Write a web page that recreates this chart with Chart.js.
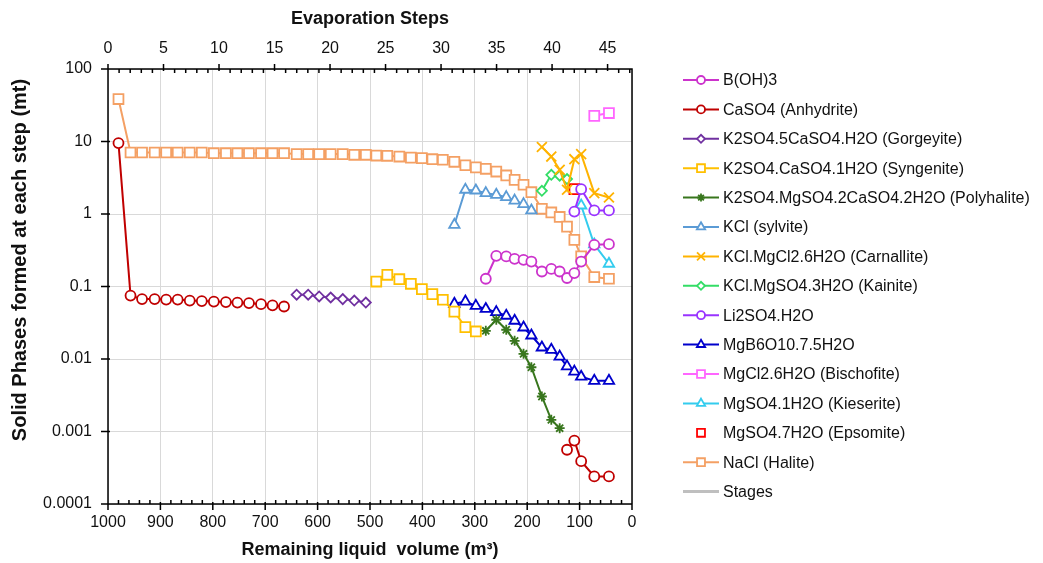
<!DOCTYPE html>
<html lang="en">
<head>
<meta charset="UTF-8">
<title>Solid phases formed during evaporation</title>
<script src="https://cdn.jsdelivr.net/npm/chart.js"></script>
<style>
  html, body { margin: 0; padding: 0; background: #fff; }
  #wrap { width: 1043px; height: 563px; position: relative; }
</style>
</head>
<body>
<div id="wrap"><canvas id="phaseChart"></canvas></div>
<script>
// remaining liquid volume (m3) after each evaporation step
const volume = [980, 957, 935, 911, 889, 867, 844, 821, 798, 775, 753, 731, 708, 686, 664,
                640, 618, 597, 575, 552, 530, 508, 488, 467, 444, 422, 401, 381, 361, 339,
                318, 298, 279, 259, 240, 224, 207, 192, 172, 154, 138, 124, 110, 97, 72, 44];

const stepTicks = [0, 5, 10, 15, 20, 25, 30, 35, 40, 45];
const volumeTicks = [0, 100, 200, 300, 400, 500, 600, 700, 800, 900, 1000];
const yTicks = [0.0001, 0.001, 0.01, 0.1, 1, 10, 100];
const yTickLabels = ['0.0001', '0.001', '0.01', '0.1', '1', '10', '100'];

// solid phase masses (mt); each list starts at the step index given next to it
const boricAcid = [0.128, 0.265, 0.26, 0.241, 0.233, 0.221, 0.161, 0.175, 0.161, 0.131, 0.153, 0.221, 0.376, 0.384];
const boricAcidStart = 32;
const anhydriteEarly = [9.5, 0.075, 0.067, 0.067, 0.066, 0.066, 0.064, 0.063, 0.062, 0.061, 0.060, 0.059, 0.057, 0.055, 0.053];
const anhydriteLate = [0.00056, 0.00075, 0.00039, 0.00024, 0.00024];
const anhydriteLateStart = 41;
const gorgeyite = [0.077, 0.077, 0.073, 0.0705, 0.067, 0.064, 0.060];
const gorgeyiteStart = 15;
const syngenite = [0.117, 0.145, 0.126, 0.109, 0.092, 0.0785, 0.0656, 0.045, 0.0275, 0.024];
const syngeniteStart = 22;
const polyhalite = [0.0245, 0.0348, 0.0253, 0.0178, 0.0118, 0.0077, 0.00304, 0.00145, 0.00111];
const polyhaliteStart = 32;
const sylvite = [0.71, 2.16, 2.11, 1.94, 1.84, 1.71, 1.53, 1.37, 1.12];
const sylviteStart = 29;
const carnallite = [8.4, 6.2, 4.07, 2.16, 5.7, 6.7, 1.94, 1.69];
const carnalliteStart = 38;
const kainite = [2.09, 3.47, 3.37, 3.03];
const kainiteStart = 38;
const lithiumSulfate = [1.08, 2.2, 1.12, 1.12];
const lithiumSulfateStart = 42;
const magnesiumBorate = [0.0577, 0.062, 0.054, 0.049, 0.0443, 0.0395, 0.0337, 0.0272, 0.0211, 0.0144,
                         0.0134, 0.0108, 0.0079, 0.0067, 0.0057, 0.005, 0.005];
const magnesiumBorateStart = 29;
const bischofite = [22.6, 24.7];
const bischofiteStart = 44;
const kieserite = [1.31, 0.38, 0.206];
const kieseriteStart = 43;
const epsomite = [2.2];
const epsomiteStart = 42;
const halite = [38.5, 7.05, 7.05, 7.05, 7.05, 7.05, 7.05, 7.05, 6.9, 6.9, 6.9, 6.9, 6.9, 6.9, 6.9,
                6.7, 6.7, 6.7, 6.7, 6.7, 6.55, 6.55, 6.4, 6.35, 6.2, 6.0, 5.9, 5.7, 5.6, 5.25,
                4.7, 4.4, 4.2, 3.85, 3.4, 2.96, 2.53, 2.0, 1.18, 1.05, 0.91, 0.67, 0.44, 0.26, 0.135, 0.128];

// put a list on the step grid, leaving the other steps empty
function onSteps(start, values, base) {
  const out = base ? base.slice() : volume.map(() => null);
  values.forEach((v, i) => { out[start + i] = v; });
  return out;
}
function points(arr) {
  return volume.map((v, i) => ({ x: v, y: arr[i] }));
}

function series(label, arr, color, style, radius, extra) {
  return Object.assign({
    label: label,
    data: points(arr),
    borderColor: color,
    backgroundColor: color,
    borderWidth: 2,
    pointStyle: style,
    pointRadius: radius,
    pointHoverRadius: radius,
    pointBorderColor: color,
    pointBackgroundColor: '#fff',
    pointBorderWidth: 1.8,
    spanGaps: false,
    xAxisID: 'x',
    yAxisID: 'y'
  }, extra || {});
}

const datasets = [
  series('B(OH)3', onSteps(boricAcidStart, boricAcid), '#CC33CC', 'circle', 5),
  series('CaSO4 (Anhydrite)', onSteps(anhydriteLateStart, anhydriteLate, onSteps(0, anhydriteEarly)), '#C00000', 'circle', 5),
  series('K2SO4.5CaSO4.H2O (Gorgeyite)', onSteps(gorgeyiteStart, gorgeyite), '#7030A0', 'rectRot', 5),
  series('K2SO4.CaSO4.1H2O (Syngenite)', onSteps(syngeniteStart, syngenite), '#FFC000', 'rect', 7),
  series('K2SO4.MgSO4.2CaSO4.2H2O (Polyhalite)', onSteps(polyhaliteStart, polyhalite), '#38761D', 'star', 5),
  series('KCl (sylvite)', onSteps(sylviteStart, sylvite), '#5B9BD5', 'triangle', 6),
  series('KCl.MgCl2.6H2O (Carnallite)', onSteps(carnalliteStart, carnallite), '#FFB300', 'crossRot', 7),
  series('KCl.MgSO4.3H2O (Kainite)', onSteps(kainiteStart, kainite), '#33DD66', 'rectRot', 5),
  series('Li2SO4.H2O', onSteps(lithiumSulfateStart, lithiumSulfate), '#9933FF', 'circle', 5),
  series('MgB6O10.7.5H2O', onSteps(magnesiumBorateStart, magnesiumBorate), '#0000CC', 'triangle', 6),
  series('MgCl2.6H2O (Bischofite)', onSteps(bischofiteStart, bischofite), '#FF66FF', 'rect', 7),
  series('MgSO4.1H2O (Kieserite)', onSteps(kieseriteStart, kieserite), '#33CCEE', 'triangle', 6),
  series('MgSO4.7H2O (Epsomite)', onSteps(epsomiteStart, epsomite), '#FF0000', 'rect', 7, { showLine: false }),
  series('NaCl (Halite)', halite, '#F4A064', 'rect', 7),
  { label: 'Stages', data: [], borderColor: '#BFBFBF', borderWidth: 3, pointRadius: 0, xAxisID: 'x', yAxisID: 'y' }
];

// axis lines, crossing major ticks and inner minor ticks, plus the vertical y title
const frame = {
  id: 'frame',
  afterDatasetsDraw(chart) {
    const { ctx, chartArea: a, scales } = chart;
    const x = scales.x, top = scales.x2, y = scales.y;
    ctx.save();
    ctx.strokeStyle = '#000';
    ctx.lineWidth = 1.5;
    ctx.beginPath();
    ctx.rect(a.left, a.top, a.right - a.left, a.bottom - a.top);
    for (let v = 0; v <= 1000; v += 20) {
      const px = x.getPixelForValue(v);
      if (v % 100 === 0) { ctx.moveTo(px, a.bottom - 2); ctx.lineTo(px, a.bottom + 6); }
      else { ctx.moveTo(px, a.bottom - 4); ctx.lineTo(px, a.bottom); }
    }
    for (let s = 0; s <= 47; s++) {
      const px = top.getPixelForValue(s);
      if (s % 5 === 0) { ctx.moveTo(px, a.top - 5); ctx.lineTo(px, a.top + 2); }
      else { ctx.moveTo(px, a.top); ctx.lineTo(px, a.top + 4); }
    }
    yTicks.forEach(v => {
      const py = y.getPixelForValue(v);
      ctx.moveTo(a.left - 7, py); ctx.lineTo(a.left + 2, py);
    });
    ctx.stroke();

    ctx.translate(20, 260);
    ctx.rotate(-Math.PI / 2);
    ctx.font = 'bold 20px "Liberation Sans", Arial, sans-serif';
    ctx.fillStyle = '#111';
    ctx.textAlign = 'center';
    ctx.textBaseline = 'middle';
    ctx.fillText('Solid Phases formed at each step (mt)', 0, 0);
    ctx.restore();
  }
};

// legend on the right: line sample with its marker, then the name
const sideLegend = {
  id: 'sideLegend',
  afterDraw(chart) {
    const { ctx } = chart;
    const x0 = 683, x1 = 719, tx = 723, y0 = 80, gap = 29.4;
    ctx.save();
    ctx.font = '16px "Liberation Sans", Arial, sans-serif';
    ctx.textBaseline = 'middle';
    chart.data.datasets.forEach((ds, i) => {
      const yy = y0 + i * gap;
      if (ds.showLine !== false) {
        ctx.strokeStyle = ds.borderColor;
        ctx.lineWidth = ds.borderWidth;
        ctx.beginPath();
        ctx.moveTo(x0, yy); ctx.lineTo(x1, yy);
        ctx.stroke();
      }
      if (ds.pointRadius > 0) {
        ctx.strokeStyle = ds.pointBorderColor;
        ctx.fillStyle = '#fff';
        ctx.lineWidth = 1.8;
        Chart.helpers.drawPoint(ctx, {
          pointStyle: ds.pointStyle, radius: ds.pointRadius * 0.8, rotation: 0, borderWidth: 1.8
        }, (x0 + x1) / 2, yy);
      }
      ctx.fillStyle = '#111';
      ctx.fillText(ds.label, tx, yy + 1);
    });
    ctx.restore();
  }
};

Chart.defaults.font.family = '"Liberation Sans", Arial, sans-serif';
Chart.defaults.font.size = 16;
Chart.defaults.color = '#111';

new Chart(document.getElementById('phaseChart'), {
  type: 'line',
  data: { datasets: datasets },
  options: {
    responsive: true,
    maintainAspectRatio: false,
    animation: false,
    layout: { padding: { left: 0, top: 0, right: 411, bottom: 0 } },
    plugins: {
      legend: { display: false },
      tooltip: { enabled: false }
    },
    scales: {
      x: {
        type: 'linear',
        position: 'bottom',
        reverse: true,
        min: 0,
        max: 1000,
        afterBuildTicks: s => { s.ticks = volumeTicks.map(v => ({ value: v })); },
        afterFit: s => { s.height = 59; },
        ticks: { padding: 9, maxRotation: 0, color: '#111', callback: value => String(value) },
        grid: { color: '#D9D9D9', lineWidth: 1, drawTicks: false },
        border: { display: false },
        title: {
          display: true,
          text: 'Remaining liquid  volume (m³)',
          font: { size: 18, weight: 'bold' },
          color: '#111',
          padding: { top: 0, bottom: 2 }
        }
      },
      x2: {
        type: 'linear',
        position: 'top',
        min: 0,
        max: 47.2,
        afterBuildTicks: s => { s.ticks = stepTicks.map(v => ({ value: v })); },
        afterFit: s => { s.height = 69; },
        ticks: { padding: 11, maxRotation: 0, color: '#111', callback: value => String(value) },
        grid: { display: false, drawTicks: false },
        border: { display: false },
        title: {
          display: true,
          text: 'Evaporation Steps',
          font: { size: 18, weight: 'bold' },
          color: '#111',
          padding: { top: 8, bottom: 0 }
        }
      },
      y: {
        type: 'logarithmic',
        position: 'left',
        min: 0.0001,
        max: 100,
        afterBuildTicks: s => { s.ticks = yTicks.map(v => ({ value: v })); },
        afterFit: s => { s.width = 108; },
        ticks: {
          padding: 16,
          color: '#111',
          callback: (value) => yTickLabels[yTicks.indexOf(value)] ?? ''
        },
        grid: { color: '#D9D9D9', lineWidth: 1, drawTicks: false },
        border: { display: false },
        title: { display: false }
      }
    }
  },
  plugins: [frame, sideLegend]
});
</script>
</body>
</html>
